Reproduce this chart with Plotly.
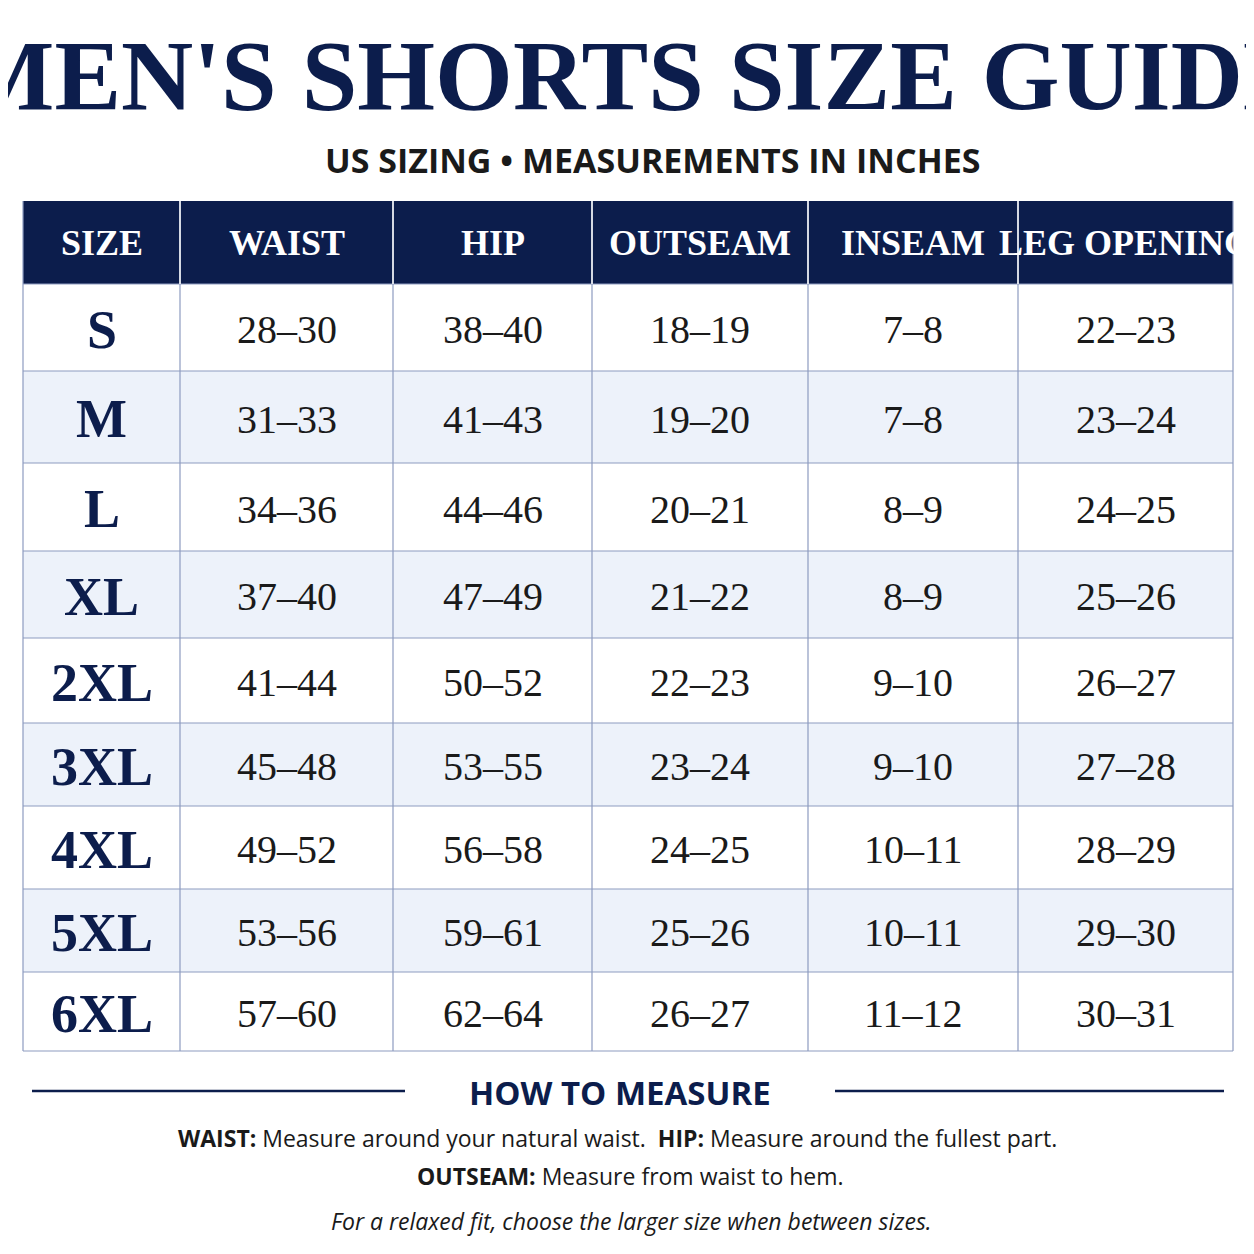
import plotly.graph_objects as go

# table content
headers = ["SIZE", "WAIST", "HIP", "OUTSEAM", "INSEAM", "LEG OPENING"]
sizes = ["S", "M", "L", "XL", "2XL", "3XL", "4XL", "5XL", "6XL"]
waist = ["28-30", "31-33", "34-36", "37-40", "41-44", "45-48", "49-52", "53-56", "57-60"]
hip = ["38-40", "41-43", "44-46", "47-49", "50-52", "53-55", "56-58", "59-61", "62-64"]
outseam = ["18-19", "19-20", "20-21", "21-22", "22-23", "23-24", "24-25", "25-26", "26-27"]
inseam = ["7-8", "7-8", "8-9", "8-9", "9-10", "9-10", "10-11", "10-11", "11-12"]
leg_opening = ["22-23", "23-24", "24-25", "25-26", "26-27", "27-28", "28-29", "29-30", "30-31"]

# page offset: the page body adds an 8px margin
OFF = 8
col_edges = [23, 180, 393, 592, 808, 1018, 1233]
row_edges = [201, 284, 371, 463, 551, 638, 723, 806, 889, 972, 1051]
col_edges = [x - OFF for x in col_edges]
row_edges = [y - OFF for y in row_edges]

NAVY = "#0c1d4c"
STRIPE = "#edf2fa"
LINE = "#8d9bc0"
NARROW = "Liberation Sans Narrow"

shapes, annos = [], []
columns = [sizes, waist, hip, outseam, inseam, leg_opening]

# header
shapes.append(dict(type="rect", x0=col_edges[0], x1=col_edges[-1], y0=row_edges[0], y1=row_edges[1],
                   fillcolor=NAVY, line=dict(width=0), layer="below"))
for c, h in enumerate(headers):
    annos.append(dict(x=(col_edges[c] + col_edges[c + 1]) / 2, y=(row_edges[0] + row_edges[1]) / 2,
                      text=f"<b>{h}</b>", showarrow=False,
                      font=dict(family=NARROW, size=36, color="white")))

# body rows
for r in range(len(sizes)):
    y0, y1 = row_edges[r + 1], row_edges[r + 2]
    if r % 2 == 1:
        shapes.append(dict(type="rect", x0=col_edges[0], x1=col_edges[-1], y0=y0, y1=y1,
                           fillcolor=STRIPE, line=dict(width=0), layer="below"))
    for c, col in enumerate(columns):
        txt = col[r].replace("-", "–")
        if c == 0:
            txt = f"<b>{txt}</b>"
            f = dict(family=NARROW, size=54, color=NAVY)
        else:
            f = dict(family=NARROW, size=40, color="#1a1a1a")
        annos.append(dict(x=(col_edges[c] + col_edges[c + 1]) / 2, y=(y0 + y1) / 2 + 2,
                          text=txt, showarrow=False, font=f))

# grid lines
for y in row_edges[1:]:
    shapes.append(dict(type="line", x0=col_edges[0], x1=col_edges[-1], y0=y, y1=y,
                       line=dict(color=LINE, width=1.2)))
for x in col_edges:
    shapes.append(dict(type="line", x0=x, x1=x, y0=row_edges[0], y1=row_edges[-1],
                       line=dict(color=LINE, width=1.2)))
for x in col_edges[1:-1]:
    shapes.append(dict(type="line", x0=x, x1=x, y0=row_edges[0], y1=row_edges[1],
                       line=dict(color="white", width=1.5)))

# titles
annos.append(dict(x=635 - OFF, y=75 - OFF, text="<b>MEN'S SHORTS SIZE GUIDE</b>", showarrow=False,
                  font=dict(family=NARROW, size=100, color=NAVY)))
annos.append(dict(x=652 - OFF, y=160 - OFF, text="<b>US SIZING • MEASUREMENTS IN INCHES</b>", showarrow=False,
                  font=dict(family="Open Sans", size=34, color="#1a1a1a")))

# how to measure
shapes.append(dict(type="line", x0=32 - OFF, x1=405 - OFF, y0=1091 - OFF, y1=1091 - OFF,
                   line=dict(color=NAVY, width=2.5)))
shapes.append(dict(type="line", x0=835 - OFF, x1=1224 - OFF, y0=1091 - OFF, y1=1091 - OFF,
                   line=dict(color=NAVY, width=2.5)))
annos.append(dict(x=620 - OFF, y=1092 - OFF, text="<b>HOW TO MEASURE</b>", showarrow=False,
                  font=dict(family="Open Sans", size=33, color=NAVY)))
annos.append(dict(x=617 - OFF, y=1138 - OFF,
                  text="<b>WAIST:</b> Measure around your natural waist.  <b>HIP:</b> Measure around the fullest part.",
                  showarrow=False, font=dict(family="Open Sans", size=23, color="#1a1a1a")))
annos.append(dict(x=630 - OFF, y=1176 - OFF, text="<b>OUTSEAM:</b> Measure from waist to hem.",
                  showarrow=False, font=dict(family="Open Sans", size=23, color="#1a1a1a")))
annos.append(dict(x=631 - OFF, y=1221 - OFF, text="<i>For a relaxed fit, choose the larger size when between sizes.</i>",
                  showarrow=False, font=dict(family="Open Sans", size=23, color="#1a1a1a")))

fig = go.Figure()
fig.update_layout(
    width=1254, height=1254, margin=dict(l=0, r=0, t=0, b=0),
    paper_bgcolor="white", plot_bgcolor="white",
    xaxis=dict(range=[0, 1254], visible=False, fixedrange=True),
    yaxis=dict(range=[1254, 0], visible=False, fixedrange=True),
    shapes=shapes, annotations=annos, showlegend=False,
)

fig.write_html("out.html")
